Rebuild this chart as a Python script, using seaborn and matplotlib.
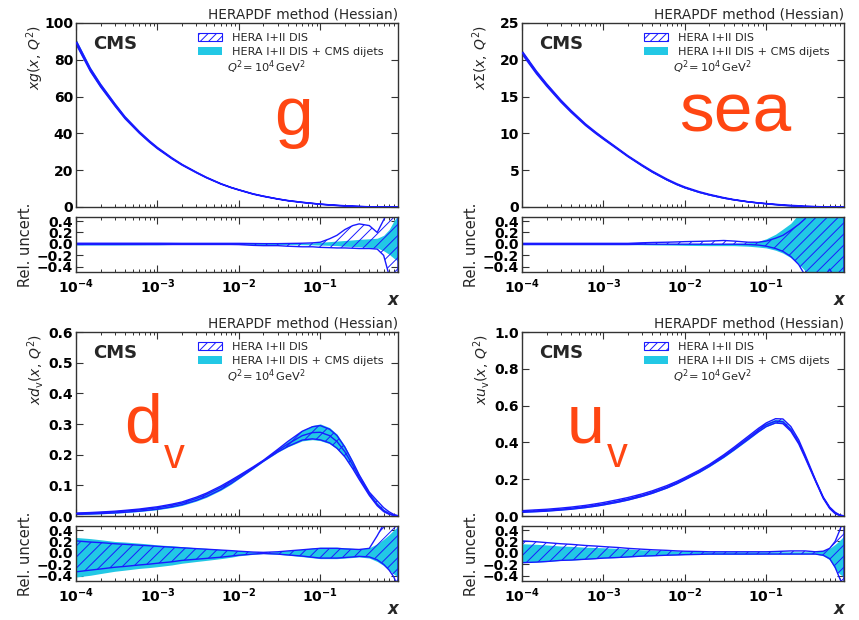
import numpy as np
import matplotlib
matplotlib.use("Agg")
import matplotlib.pyplot as plt
import seaborn as sns
from matplotlib.patches import Patch
from matplotlib.ticker import NullLocator

# x grid shared by all PDFs
x_vals = [1e-4, 1.5e-4, 2e-4, 3e-4, 4e-4, 6e-4, 8e-4, 1e-3, 1.5e-3, 2e-3, 3e-3, 4e-3,
          6e-3, 8e-3, 1e-2, 1.5e-2, 2e-2, 3e-2, 4e-2, 6e-2, 8e-2, 0.1, 0.13, 0.16, 0.2,
          0.25, 0.3, 0.4, 0.5, 0.6, 0.7, 0.8, 0.9]

# gluon xg(x, Q^2) and relative uncertainties of the two fits
g_central = [89.5, 74.5, 66, 55.5, 48.5, 40.5, 35.5, 32, 26.5, 23, 18.8, 16.0, 12.6, 10.6,
             9.3, 7.1, 5.9, 4.4, 3.5, 2.55, 1.98, 1.55, 1.12, 0.84, 0.58, 0.38, 0.25,
             0.11, 0.05, 0.02, 0.006, 0.0015, 0.0002]
g_hera_up = [0.012, 0.012, 0.012, 0.012, 0.012, 0.012, 0.012, 0.012, 0.011, 0.01, 0.01,
             0.01, 0.01, 0.01, 0.01, 0.007, 0.005, 0.005, 0.008, 0.012, 0.018, 0.03, 0.09,
             0.15, 0.25, 0.32, 0.35, 0.32, 0.2, 0.42, 0.6, 0.9, 1.2]
g_hera_dn = [-0.01, -0.01, -0.01, -0.01, -0.01, -0.01, -0.01, -0.01, -0.01, -0.01, -0.01,
             -0.01, -0.01, -0.01, -0.012, -0.025, -0.03, -0.03, -0.04, -0.05, -0.05, -0.06,
             -0.065, -0.07, -0.07, -0.075, -0.08, -0.08, -0.09, -0.2, -0.55, -0.8, -1.0]
g_cms_up = [0.018, 0.018, 0.018, 0.018, 0.017, 0.016, 0.015, 0.015, 0.01, 0.008, 0.008,
            0.008, 0.008, 0.008, 0.008, 0.008, 0.008, 0.01, 0.01, 0.012, 0.016, 0.03, 0.04,
            0.05, 0.06, 0.07, 0.08, 0.09, 0.1, 0.15, 0.25, 0.4, 0.5]
g_cms_dn = [-0.018, -0.018, -0.018, -0.018, -0.017, -0.016, -0.015, -0.015, -0.01, -0.008,
            -0.008, -0.008, -0.008, -0.008, -0.008, -0.009, -0.01, -0.01, -0.011, -0.013,
            -0.016, -0.02, -0.025, -0.03, -0.04, -0.045, -0.05, -0.06, -0.07, -0.12, -0.18,
            -0.25, -0.3]

# sea quarks xSigma(x, Q^2)
s_central = [21.0, 18.3, 16.6, 14.4, 13.0, 11.2, 10.1, 9.3, 7.9, 6.9, 5.6, 4.75, 3.7, 3.05,
             2.62, 2.0, 1.64, 1.21, 0.97, 0.70, 0.55, 0.45, 0.335, 0.255, 0.185, 0.13,
             0.085, 0.037, 0.015, 0.0055, 0.0016, 0.0003, 0.00003]
s_hera_up = [0.01, 0.01, 0.01, 0.01, 0.01, 0.01, 0.01, 0.01, 0.01, 0.01, 0.02, 0.025, 0.03,
             0.035, 0.04, 0.045, 0.05, 0.06, 0.05, 0.03, 0.03, 0.05, 0.1, 0.15, 0.24, 0.34,
             0.44, 0.8, 1.2, 1.5, 1.8, 2.0, 2.0]
s_hera_dn = [-0.01, -0.01, -0.01, -0.01, -0.01, -0.01, -0.01, -0.01, -0.01, -0.01, -0.005,
             -0.005, -0.005, -0.005, -0.005, -0.005, -0.005, -0.005, -0.005, -0.01, -0.02,
             -0.04, -0.08, -0.13, -0.22, -0.36, -0.55, -0.9, -0.6, -0.44, -0.6, -0.8, -1.0]
s_cms_up = [0.012, 0.012, 0.012, 0.012, 0.012, 0.012, 0.012, 0.012, 0.012, 0.012, 0.01,
            0.01, 0.01, 0.01, 0.01, 0.01, 0.01, 0.01, 0.012, 0.02, 0.045, 0.09, 0.17, 0.26,
            0.36, 0.52, 0.7, 1.0, 1.3, 1.5, 1.8, 2.0, 2.0]
s_cms_dn = [-0.012, -0.012, -0.012, -0.012, -0.012, -0.012, -0.012, -0.012, -0.012, -0.012,
            -0.015, -0.018, -0.02, -0.022, -0.025, -0.028, -0.03, -0.03, -0.03, -0.04,
            -0.055, -0.07, -0.11, -0.16, -0.24, -0.35, -0.47, -0.8, -1.0, -1.0, -1.0, -1.0,
            -1.0]

# d valence xd_v(x, Q^2)
dv_central = [0.008, 0.0095, 0.011, 0.0135, 0.016, 0.02, 0.024, 0.027, 0.035, 0.042, 0.057,
              0.07, 0.093, 0.112, 0.128, 0.158, 0.18, 0.213, 0.235, 0.262, 0.272, 0.273,
              0.262, 0.243, 0.21, 0.166, 0.127, 0.072, 0.038, 0.018, 0.008, 0.0025, 0.0004]
dv_hera_up = [0.21, 0.19, 0.18, 0.16, 0.15, 0.135, 0.125, 0.115, 0.1, 0.09, 0.075, 0.065,
              0.05, 0.04, 0.03, 0.015, 0.01, 0.02, 0.035, 0.055, 0.07, 0.08, 0.08, 0.08,
              0.07, 0.065, 0.06, 0.08, 0.3, 0.5, 0.7, 1.0, 1.5]
dv_hera_dn = [-0.33, -0.3, -0.28, -0.25, -0.235, -0.21, -0.195, -0.18, -0.155, -0.13, -0.11,
              -0.095, -0.075, -0.055, -0.04, -0.02, -0.01, -0.02, -0.035, -0.055, -0.075,
              -0.09, -0.09, -0.09, -0.08, -0.07, -0.06, -0.07, -0.12, -0.2, -0.3, -0.42,
              -0.6]
dv_cms_up = [0.27, 0.25, 0.23, 0.2, 0.19, 0.17, 0.155, 0.14, 0.125, 0.11, 0.09, 0.08, 0.06,
             0.05, 0.04, 0.02, 0.012, 0.025, 0.04, 0.065, 0.085, 0.1, 0.1, 0.1, 0.09, 0.08,
             0.07, 0.09, 0.16, 0.24, 0.32, 0.4, 0.46]
dv_cms_dn = [-0.42, -0.39, -0.36, -0.32, -0.3, -0.27, -0.255, -0.24, -0.21, -0.18, -0.15,
             -0.13, -0.1, -0.075, -0.05, -0.025, -0.012, -0.025, -0.04, -0.065, -0.085, -0.1,
             -0.1, -0.1, -0.09, -0.08, -0.07, -0.09, -0.15, -0.22, -0.3, -0.37, -0.42]

# u valence xu_v(x, Q^2)
uv_central = [0.024, 0.028, 0.031, 0.037, 0.042, 0.051, 0.059, 0.066, 0.081, 0.093, 0.113,
              0.13, 0.158, 0.182, 0.203, 0.243, 0.275, 0.326, 0.366, 0.425, 0.467, 0.496,
              0.516, 0.512, 0.47, 0.40, 0.322, 0.195, 0.1, 0.045, 0.017, 0.004, 0.0005]
uv_hera_up = [0.21, 0.195, 0.18, 0.16, 0.15, 0.13, 0.12, 0.11, 0.095, 0.08, 0.065, 0.055,
              0.045, 0.035, 0.03, 0.025, 0.02, 0.02, 0.02, 0.02, 0.02, 0.02, 0.025, 0.03,
              0.035, 0.035, 0.035, 0.02, 0.03, 0.08, 0.2, 0.4, 0.6]
uv_hera_dn = [-0.17, -0.16, -0.15, -0.13, -0.125, -0.11, -0.1, -0.09, -0.08, -0.07, -0.055,
              -0.05, -0.04, -0.035, -0.03, -0.025, -0.02, -0.02, -0.02, -0.02, -0.02, -0.02,
              -0.02, -0.02, -0.02, -0.02, -0.02, -0.02, -0.04, -0.1, -0.25, -0.45, -0.6]
uv_cms_up = [0.16, 0.15, 0.14, 0.12, 0.115, 0.1, 0.095, 0.09, 0.08, 0.07, 0.055, 0.05, 0.04,
             0.035, 0.03, 0.025, 0.02, 0.02, 0.02, 0.02, 0.02, 0.02, 0.02, 0.02, 0.02, 0.02,
             0.02, 0.02, 0.04, 0.08, 0.15, 0.22, 0.3]
uv_cms_dn = [-0.17, -0.16, -0.15, -0.13, -0.125, -0.11, -0.1, -0.09, -0.08, -0.07, -0.055,
             -0.05, -0.04, -0.035, -0.03, -0.028, -0.025, -0.025, -0.025, -0.025, -0.022,
             -0.02, -0.02, -0.02, -0.02, -0.02, -0.02, -0.02, -0.05, -0.12, -0.28, -0.37,
             -0.42]

x_tick_vals = [1e-4, 1e-3, 1e-2, 1e-1]
x_tick_labels = [r"$\mathbf{10^{-4}}$", r"$\mathbf{10^{-3}}$", r"$\mathbf{10^{-2}}$",
                 r"$\mathbf{10^{-1}}$"]
ratio_ticks = [-0.4, -0.2, 0.0, 0.2, 0.4]
ratio_tick_labels = ["\u22120.4", "\u22120.2", "0.0", "0.2", "0.4"]

legend_labels = ["HERA I+II DIS", "HERA I+II DIS + CMS dijets"]
title_text = "HERAPDF method (Hessian)"

CYAN = "#22c8e5"
BLUE = "#1a1aff"
ORANGE = "#ff4612"
FRAME = "#333333"

sns.set_style("ticks")
plt.rcParams.update({
    "font.family": ["DejaVu Sans"],
    "hatch.linewidth": 0.7,
    "axes.edgecolor": FRAME,
    "axes.linewidth": 1.0,
    "mathtext.fontset": "dejavusans",
})

fig = plt.figure(figsize=(8.59, 6.2), dpi=100)

W, H = 859.0, 620.0


def rect(left, top, right, bottom):
    return [left / W, 1 - bottom / H, (right - left) / W, (bottom - top) / H]


panels = [
    dict(central=g_central, hera=(g_hera_dn, g_hera_up), cms=(g_cms_dn, g_cms_up),
         ylim=(0, 100), yticks=[0, 20, 40, 60, 80, 100],
         ylabels=["0", "20", "40", "60", "80", "100"],
         ylabel=r"$xg(x,\,Q^2)$", left=76, top=23,
         tags=[("g", 0.674, 0.39, 50, "center")]),
    dict(central=s_central, hera=(s_hera_dn, s_hera_up), cms=(s_cms_dn, s_cms_up),
         ylim=(0, 25), yticks=[0, 5, 10, 15, 20, 25],
         ylabels=["0", "5", "10", "15", "20", "25"],
         ylabel=r"$x\Sigma(x,\,Q^2)$", left=522, top=23,
         tags=[("sea", 0.488, 0.41, 50, "left")]),
    dict(central=dv_central, hera=(dv_hera_dn, dv_hera_up), cms=(dv_cms_dn, dv_cms_up),
         ylim=(0, 0.6), yticks=[0, 0.1, 0.2, 0.3, 0.4, 0.5, 0.6],
         ylabels=["0.0", "0.1", "0.2", "0.3", "0.4", "0.5", "0.6"],
         ylabel=r"$xd_\mathrm{v}(x,\,Q^2)$", left=76, top=332,
         tags=[("d", 0.148, 0.398, 49, "left"), ("v", 0.272, 0.263, 30, "left")]),
    dict(central=uv_central, hera=(uv_hera_dn, uv_hera_up), cms=(uv_cms_dn, uv_cms_up),
         ylim=(0, 1.0), yticks=[0, 0.2, 0.4, 0.6, 0.8, 1.0],
         ylabels=["0.0", "0.2", "0.4", "0.6", "0.8", "1.0"],
         ylabel=r"$xu_\mathrm{v}(x,\,Q^2)$", left=522, top=332,
         tags=[("u", 0.14, 0.398, 49, "left"), ("v", 0.262, 0.265, 30, "left")]),
]

x = np.array(x_vals)


def style_axis(ax):
    ax.set_xscale("log")
    ax.set_xlim(1e-4, 0.9)
    ax.tick_params(which="both", direction="in", top=True, right=True, colors=FRAME,
                   labelcolor="black")
    ax.tick_params(which="major", length=5, width=0.8, labelsize=10, pad=2)
    ax.tick_params(which="minor", length=2.5, width=0.7)
    ax.yaxis.set_minor_locator(NullLocator())
    for sp in ax.spines.values():
        sp.set_color(FRAME)
        sp.set_linewidth(1.0)


for p in panels:
    L, T = p["left"], p["top"]
    ax = fig.add_axes(rect(L, T, L + 322, T + 184))
    axr = fig.add_axes(rect(L, T + 194, L + 322, T + 249))

    c = np.array(p["central"])
    h_dn, h_up = np.array(p["hera"][0]), np.array(p["hera"][1])
    c_dn, c_up = np.array(p["cms"][0]), np.array(p["cms"][1])

    # upper panel: absolute PDFs with both uncertainty bands
    ax.fill_between(x, c * (1 + c_dn), c * (1 + c_up), color=CYAN, lw=0, zorder=1)
    ax.fill_between(x, c * (1 + h_dn), c * (1 + h_up), facecolor="none",
                    edgecolor=BLUE, hatch="///", lw=1.0, zorder=2)
    sns.lineplot(x=x, y=c, ax=ax, color=BLUE, lw=1.0, legend=False, zorder=3)

    # lower panel: relative uncertainties
    axr.fill_between(x, c_dn, c_up, color=CYAN, lw=0, zorder=1)
    axr.fill_between(x, h_dn, h_up, facecolor="none", edgecolor=BLUE, hatch="///",
                     lw=1.0, zorder=2)

    for a in (ax, axr):
        style_axis(a)
        a.set_xlabel("")
        a.set_ylabel("")

    ax.set_ylim(*p["ylim"])
    ax.set_yticks(p["yticks"])
    ax.set_yticklabels(p["ylabels"], fontweight="bold")
    ax.set_xticks(x_tick_vals)
    ax.tick_params(labelbottom=False)

    axr.set_ylim(-0.49, 0.47)
    axr.set_yticks(ratio_ticks)
    axr.set_yticklabels(ratio_tick_labels, fontweight="bold")
    axr.set_xticks(x_tick_vals)
    axr.set_xticklabels(x_tick_labels, fontsize=10)
    axr.tick_params(axis="x", pad=4)

    ax.set_title(title_text, loc="right", fontsize=9.8, pad=3)
    ax.text(0.052, 0.935, "CMS", transform=ax.transAxes, va="top", ha="left",
            fontsize=13, fontweight="bold")

    handles = [Patch(facecolor="white", edgecolor=BLUE, hatch="////", lw=0.8),
               Patch(facecolor=CYAN, edgecolor="none")]
    ax.legend(handles, legend_labels, loc="upper left", bbox_to_anchor=(0.379, 0.945),
              frameon=False, fontsize=8.1, handlelength=2.1, handleheight=0.75,
              handletextpad=0.95, labelspacing=0.32, borderpad=0, borderaxespad=0)
    ax.text(0.469, 0.758, r"$Q^2\!=10^4\,\mathrm{GeV}^2$", transform=ax.transAxes,
            va="center", ha="left", fontsize=8.2)

    for txt, tx, ty, fs, ha in p["tags"]:
        ax.text(tx, ty, txt, transform=ax.transAxes, ha=ha, va="baseline", fontsize=fs,
                color=ORANGE, family=["Liberation Sans", "DejaVu Sans"])

    ax.text(-0.127, 0.99, p["ylabel"], transform=ax.transAxes, rotation=90,
            ha="center", va="top", fontsize=10)
    axr.text(-0.158, 0.5, "Rel. uncert.", transform=axr.transAxes, rotation=90,
             ha="center", va="center", fontsize=10.5)
    axr.text(0.985, -0.51, "x", transform=axr.transAxes, ha="center", va="center",
             fontsize=12, fontweight="bold", fontstyle="italic")

fig.savefig("out.png", dpi=100)
